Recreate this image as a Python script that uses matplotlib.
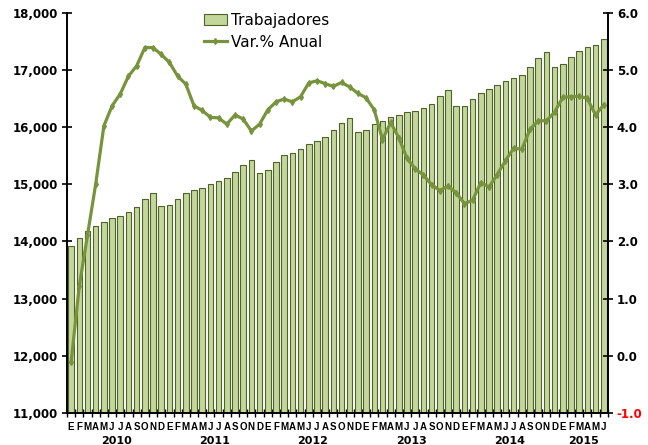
import numpy as np
import matplotlib
matplotlib.use("Agg")
import matplotlib.pyplot as plt
from matplotlib.ticker import FuncFormatter, FixedLocator

years = ["2010", "2011", "2012", "2013", "2014", "2015"]
month_letters = ["E", "F", "M", "A", "M", "J", "J", "A", "S", "O", "N", "D"]

# Trabajadores (miles), ene-2010 .. jun-2015
trabajadores = [
    13925, 14054, 14178, 14274, 14344, 14404, 14444, 14523, 14610, 14738, 14855, 14624,
    14636, 14738, 14843, 14893, 14942, 15000, 15051, 15112, 15217, 15344, 15432, 15205,
    15257, 15383, 15514, 15554, 15615, 15708, 15760, 15830, 15942, 16070, 16157, 15913,
    15942, 16047, 16100, 16180, 16215, 16257, 16274, 16327, 16407, 16537, 16642, 16367,
    16367, 16484, 16589, 16661, 16740, 16799, 16851, 16904, 17044, 17211, 17316, 17054,
    17101, 17229, 17334, 17393, 17439, 17533,
]

# Var. % anual
var_anual = [
    -0.11, 1.22, 2.11, 3.00, 4.02, 4.37, 4.58, 4.89, 5.07, 5.39, 5.39, 5.27,
    5.13, 4.89, 4.75, 4.37, 4.29, 4.17, 4.16, 4.05, 4.21, 4.14, 3.93, 4.05,
    4.30, 4.44, 4.49, 4.44, 4.53, 4.77, 4.81, 4.76, 4.71, 4.78, 4.70, 4.59,
    4.51, 4.30, 3.78, 4.08, 3.81, 3.45, 3.27, 3.16, 2.99, 2.89, 2.97, 2.85,
    2.66, 2.72, 3.03, 2.95, 3.17, 3.41, 3.63, 3.61, 3.96, 4.11, 4.11, 4.26,
    4.52, 4.53, 4.54, 4.50, 4.21, 4.39,
]

n = len(trabajadores)
x = np.arange(n)
month_labels = [month_letters[i % 12] for i in range(n)]

bar_fill = "#c3d69b"
bar_edge = "#4f6228"
line_col = "#77933c"

fig = plt.figure(figsize=(6.48, 4.45), dpi=100)
ax = fig.add_axes([0.1034, 0.072, 0.8346, 0.8995])

bars = ax.bar(x, trabajadores, width=0.68, color=bar_fill, edgecolor=bar_edge,
              linewidth=0.8, label="Trabajadores", zorder=2)
ax.set_xlim(-0.5, n - 0.5)
ax.set_ylim(11000, 18000)
ax.set_yticks(np.arange(11000, 18001, 1000))
ax.yaxis.set_major_formatter(FuncFormatter(lambda v, p: f"{int(v):,}"))

ax2 = ax.twinx()
line, = ax2.plot(x, var_anual, color=line_col, linewidth=2.3, marker="d",
                 markersize=3, label="Var.% Anual", zorder=3)
ax2.set_ylim(-1.0, 6.0)
ax2.set_yticks(np.arange(-1.0, 6.01, 1.0))
ax2.yaxis.set_major_formatter(FuncFormatter(lambda v, p: f"{v:.1f}"))

for a in (ax, ax2):
    a.spines["top"].set_visible(False)
    for s in ("left", "right", "bottom"):
        a.spines[s].set_linewidth(1.2)
        a.spines[s].set_color("black")
    a.tick_params(axis="y", direction="inout", length=7, width=1.2,
                  labelsize=8.5, pad=3)
    for lab in a.get_yticklabels():
        lab.set_fontweight("bold")

ax2.get_yticklabels()[0].set_color("red")

# month boundary ticks on the category axis
ax.xaxis.set_major_locator(FixedLocator(np.arange(-0.5, n, 1.0)))
ax.tick_params(axis="x", direction="inout", length=6, width=1.0, labelbottom=False)

for i, m in enumerate(month_labels):
    ax.annotate(m, xy=(i, 0), xycoords=("data", "axes fraction"),
                xytext=(0, -10), textcoords="offset points", ha="center",
                va="center", fontsize=7, fontweight="bold",
                family=["Liberation Sans", "DejaVu Sans"])

for k, yr in enumerate(years):
    first = k * 12
    last = min(first + 11, n - 1)
    ax.annotate(yr, xy=((first + last) / 2, 0), xycoords=("data", "axes fraction"),
                xytext=(0, -20), textcoords="offset points", ha="center",
                va="center", fontsize=8, fontweight="bold")

fig.legend(handles=[bars, line], loc="upper left",
           bbox_to_anchor=(0.305, 0.985), frameon=False, fontsize=11,
           handlelength=1.5, handletextpad=0.3, labelspacing=0.45,
           borderaxespad=0)

fig.savefig("out.png", dpi=100)
